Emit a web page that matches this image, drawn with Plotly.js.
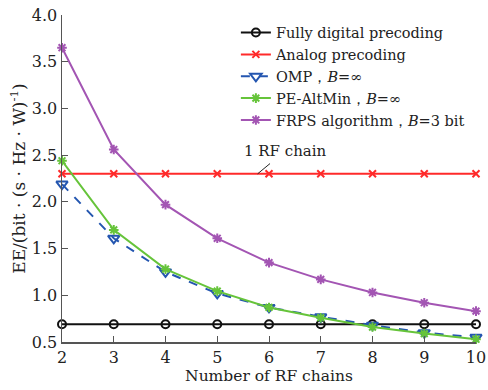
<!DOCTYPE html>
<html>
<head>
<meta charset="utf-8">
<script src="https://cdn.plot.ly/plotly-3.0.1.min.js"></script>
<style>html,body{margin:0;padding:0;background:#fff;}#chart{width:488px;height:390px;}</style>
</head>
<body>
<div id="chart"></div>
<script>
var rfChains = [2, 3, 4, 5, 6, 7, 8, 9, 10];
var fullyDigital = [0.69, 0.69, 0.69, 0.69, 0.69, 0.69, 0.69, 0.69, 0.69];
var analog = [2.30, 2.30, 2.30, 2.30, 2.30, 2.30, 2.30, 2.30, 2.30];
var omp = [2.19, 1.61, 1.25, 1.02, 0.87, 0.77, 0.68, 0.60, 0.55];
var peAltMin = [2.44, 1.70, 1.28, 1.045, 0.87, 0.76, 0.66, 0.59, 0.53];
var frps = [3.65, 2.56, 1.97, 1.61, 1.35, 1.17, 1.03, 0.92, 0.83];
var seriesNames = ["Fully digital precoding", "Analog precoding", "OMP，<i>B</i>=∞", "PE-AltMin，<i>B</i>=∞", "FRPS algorithm，<i>B</i>=3 bit"];
var xTicks = [2, 3, 4, 5, 6, 7, 8, 9, 10];
var yTicks = [0.5, 1.0, 1.5, 2.0, 2.5, 3.0, 3.5, 4.0];
var yTickLabels = ["0.5", "1.0", "1.5", "2.0", "2.5", "3.0", "3.5", "4.0"];

var font = "DejaVu Serif, Liberation Serif, serif";
function tr(y, name, color, symbol, dash, msize) {
  return {x: rfChains, y: y, name: name, type: 'scatter', mode: 'lines+markers',
    line: {color: color, width: 2, dash: dash || 'solid'},
    marker: {symbol: symbol, size: msize || 8, color: color, line: {color: color, width: 2}},
    cliponaxis: false};
}
var data = [
  tr(fullyDigital, seriesNames[0], '#111111', 'circle-open', 'solid', 8),
  tr(analog, seriesNames[1], '#ff2a2a', 'x-thin-open', 'solid', 7),
  tr(omp, seriesNames[2], '#2456b0', 'triangle-down-open', 'dash', 10),
  tr(peAltMin, seriesNames[3], '#66c43a', 'asterisk-open', 'solid', 8),
  tr(frps, seriesNames[4], '#a355b3', 'asterisk-open', 'solid', 8)
];
var layout = {
  width: 488, height: 390,
  margin: {l: 62, r: 12, t: 15, b: 48},
  paper_bgcolor: '#fff', plot_bgcolor: '#fff',
  font: {family: font, size: 15, color: '#222'},
  showlegend: true,
  legend: {x: 0.42, y: 0.995, xanchor: 'left', yanchor: 'top', bgcolor: 'rgba(0,0,0,0)',
    font: {family: font, size: 14.5, color: '#222'}, tracegroupgap: 0, itemwidth: 30},
  xaxis: {range: [2, 10], tickvals: xTicks, ticks: 'inside', ticklen: 6, tickcolor: '#555',
    showline: true, linecolor: '#555', linewidth: 1.5, showgrid: false, zeroline: false,
    tickfont: {family: font, size: 16, color: '#222'},
    title: {text: 'Number of RF chains', font: {family: font, size: 15.5, color: '#222'}, standoff: 4}},
  yaxis: {range: [0.5, 4.0], tickvals: yTicks, ticktext: yTickLabels, ticks: 'inside', ticklen: 6, tickcolor: '#555',
    showline: true, linecolor: '#555', linewidth: 1.5, showgrid: false, zeroline: false,
    tickfont: {family: font, size: 16, color: '#222'},
    title: {text: 'EE/(bit · (s · Hz · W)<sup>-1</sup>)', font: {family: font, size: 17, color: '#222'}, standoff: 2}},
  annotations: [{x: 6.31, y: 2.54, xref: 'x', yref: 'y', text: '1 RF chain', showarrow: false,
    font: {family: font, size: 15, color: '#222'}}],
  shapes: [{type: 'line', xref: 'x', yref: 'y', x0: 5.78, y0: 2.30, x1: 6.02, y1: 2.41,
    line: {color: '#222', width: 1}}]
};
Plotly.newPlot('chart', data, layout, {displayModeBar: false, staticPlot: true});
</script>
</body>
</html>
